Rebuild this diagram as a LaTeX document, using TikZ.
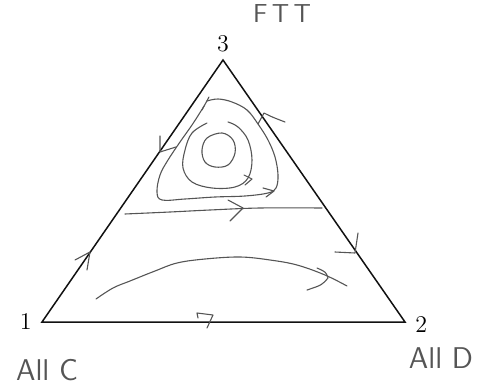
\documentclass[tikz,border=0pt]{standalone}
\usepackage{fontspec}
\usetikzlibrary{positioning}
\def\wPen{0.55pt}
\def\wEdge{0.75pt}
\definecolor{cInk}{HTML}{111111}
\definecolor{cPen}{HTML}{555555}
\tikzset{
  simplex/.style={draw=cInk, line width=\wEdge, line join=miter},
  vlabel/.style={font=\fontsize{12}{14}\selectfont, inner sep=0pt},
  hand/.style={font=\sffamily\fontsize{15}{17}\selectfont, text=cPen, inner sep=0pt},
  pen/.style={draw=cPen, line width=\wPen, line cap=round, line join=round},
  orbit/.style={pen, smooth, tension=0.6},
}

\begin{document}
\begin{tikzpicture}[x=0.5pt, y=-0.5pt]
\useasboundingbox (0,0) rectangle (481,390);
% strategy simplex, corners 1 (All C), 2 (All D), 3 (FTT)
\coordinate (v1) at (42,322);
\coordinate (v2) at (405,322);
\coordinate (v3) at (223,60);
\draw[simplex] (v1) -- (v2) -- (v3) -- cycle;
\node[vlabel, left=5pt of v1] (l1) {1};
\node[vlabel, right=5pt of v2, yshift=-1.5pt] (l2) {2};
\node[vlabel, above=4pt of v3] (l3) {3};
\node[hand, font=\sffamily\fontsize{13}{15}\selectfont] (tft) at (282,14) {F\,T\,T};
\node[hand] (allc) at (47,370) {All C};
\node[hand] (alld) at (441,358) {All D};
% orbits round the interior point
\draw[orbit] plot[smooth cycle] coordinates {(222,133) (233,140) (235,153) (228,165) (215,167) (205,162) (202,150) (207,138)};
\draw[orbit] plot coordinates {(228,122) (238,127) (248,140) (252,160) (248,178) (235,187) (212,188) (192,182) (183,168) (185,150) (192,133) (207,123)};
\draw[pen] (244,175) -- (252,179) -- (245,185);
\draw[orbit] plot coordinates {(207,101) (218,99) (232,102) (247,110) (258,124) (268,140) (275,157) (278,175) (276,188) (268,193) (245,196) (215,197) (185,199) (162,200) (157,192) (160,175) (168,160) (180,142) (192,125) (201,111) (204,106)};
\draw[pen] (209,97) -- (202,110);
\draw[pen] (263,188) -- (274,191) -- (266,197);
% flow through the lower part
\draw[orbit] plot coordinates {(125,214) (170,212) (210,210) (260,208) (322,208)};
\draw[pen] (228,200) -- (243,208) -- (230,221);
\draw[orbit] plot coordinates {(96,299) (113,288) (130,281) (155,271) (177,263) (205,259) (240,257) (270,260) (297,265) (325,275) (347,286)};
\draw[pen] (317,268) .. controls (326,272) .. (328,278) .. controls (322,285) .. (307,290);
% arrows on the edges
\draw[pen] (75,260) -- (90,252) -- (87,270);
\draw[pen] (160,136) -- (160,152) -- (176,147);
\draw[pen] (258,124) -- (264,113) .. controls (272,117) .. (285,122);
\draw[pen] (335,252) -- (355,253) -- (358,233);
\draw[pen] (198,318) -- (197,313) -- (213,315) -- (207,328);
\end{tikzpicture}
\end{document}
